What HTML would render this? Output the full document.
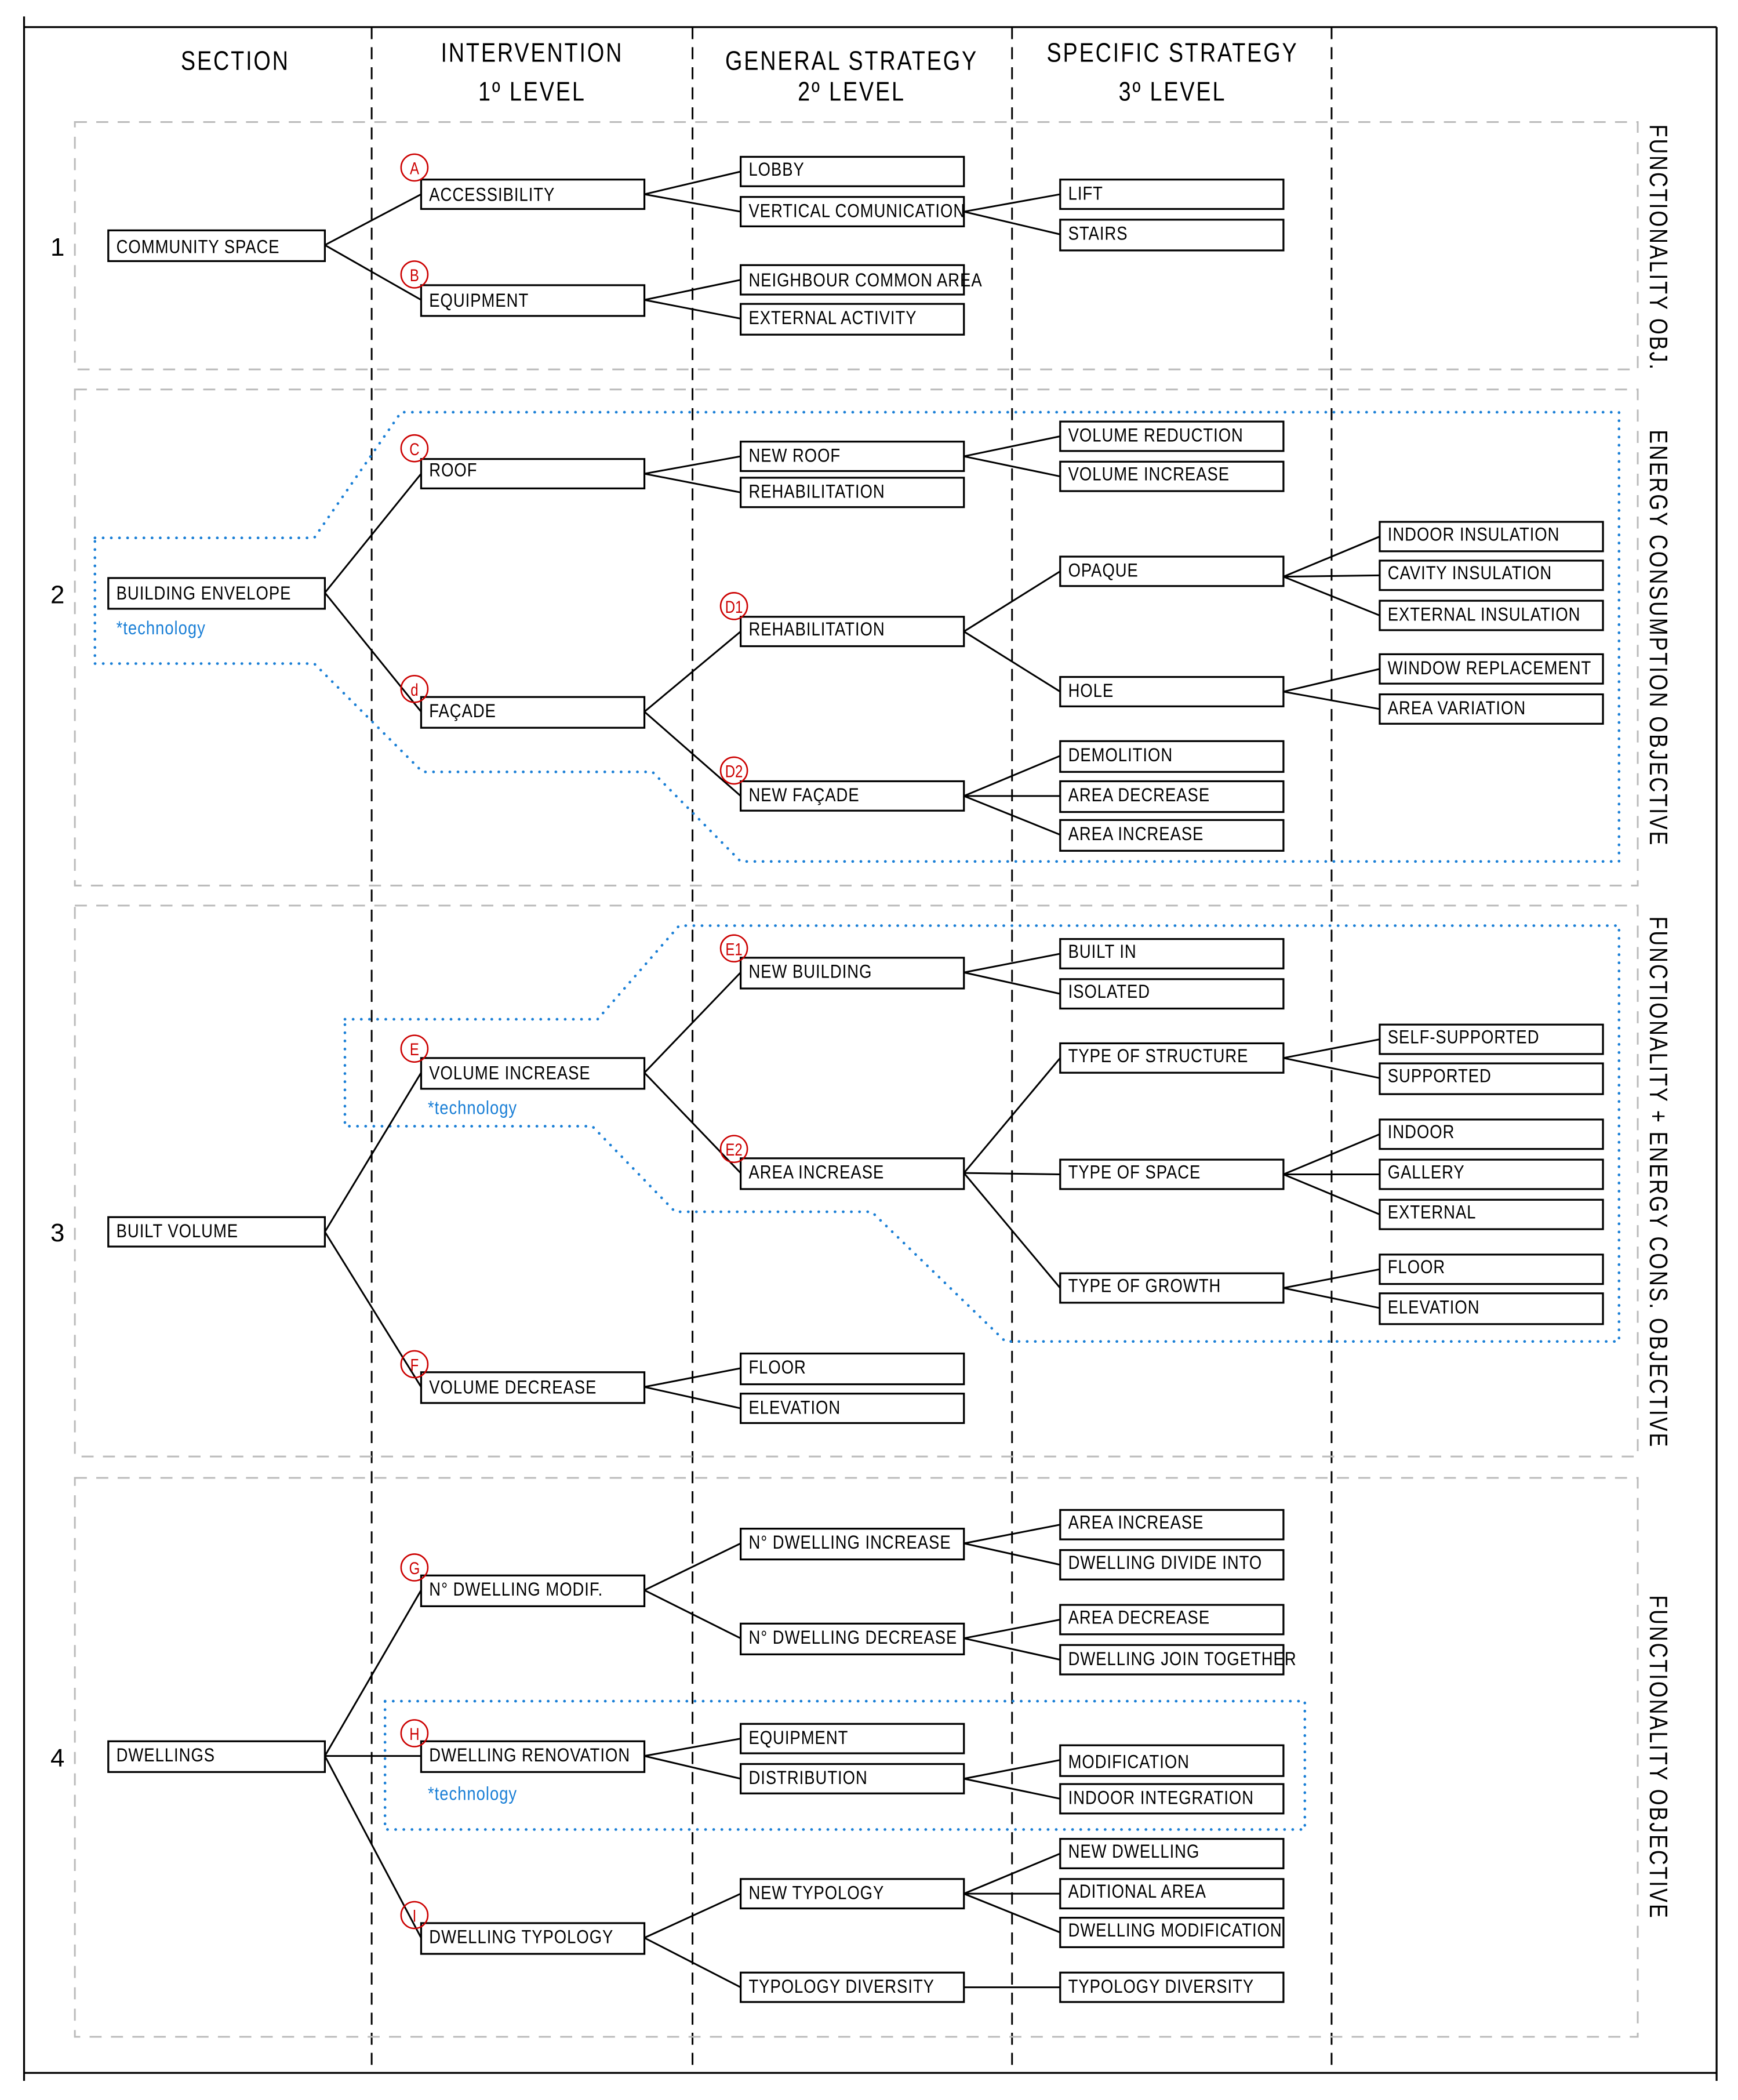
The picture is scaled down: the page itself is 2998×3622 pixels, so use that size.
<!DOCTYPE html>
<html><head><meta charset="utf-8"><style>
html,body{margin:0;padding:0;background:#fff;}
svg{display:block;}
text{font-family:"Liberation Sans",sans-serif;}
.b rect{fill:#fff;stroke:#000;stroke-width:1.4;}
.b text{font-size:14px;letter-spacing:0.5px;fill:#000;transform-box:fill-box;transform-origin:0 50%;transform:scaleX(0.85);}
.l line{stroke:#000;stroke-width:1.3;}
.c circle{fill:none;stroke:#c00;stroke-width:1.1;}
.c text{fill:#c00;font-size:13px;text-anchor:middle;transform-box:fill-box;transform-origin:50% 50%;transform:scaleX(0.8);}
.h{font-size:20px;text-anchor:middle;letter-spacing:1.5px;transform-box:fill-box;transform-origin:50% 50%;transform:scaleX(0.82);}
.v{font-size:19px;letter-spacing:1.5px;text-anchor:middle;}
.t{fill:#1a7fd6;font-size:14px;letter-spacing:0.5px;transform-box:fill-box;transform-origin:0 50%;transform:scaleX(0.85);}
</style></head><body>
<svg width="2998" height="3622" viewBox="0 0 1300 1570" xmlns="http://www.w3.org/2000/svg">
<g stroke="#000" stroke-width="1.4" fill="none">
<line x1="18" y1="12" x2="18" y2="1556"/>
<line x1="18" y1="20" x2="1284" y2="20"/>
<line x1="1284" y1="20" x2="1284" y2="1556"/>
<line x1="18" y1="1550" x2="1284" y2="1550"/>
</g>
<g stroke="#000" stroke-width="1.3" stroke-dasharray="9,6">
<line x1="278" y1="20" x2="278" y2="1550"/>
<line x1="518" y1="20" x2="518" y2="1550"/>
<line x1="757" y1="20" x2="757" y2="1550"/>
<line x1="996" y1="20" x2="996" y2="1550"/>
</g>
<g fill="none" stroke="#bbb" stroke-width="1.3" stroke-dasharray="9,7">
<rect x="56" y="91" width="1169" height="185"/>
<rect x="56" y="291" width="1169" height="371"/>
<rect x="56" y="677" width="1169" height="412"/>
<rect x="56" y="1105" width="1169" height="418"/>
</g>
<text class="h" x="176" y="52">SECTION</text>
<text class="h" x="398" y="46">INTERVENTION</text>
<text class="h" x="398" y="75">1º LEVEL</text>
<text class="h" x="637" y="52">GENERAL STRATEGY</text>
<text class="h" x="637" y="75">2º LEVEL</text>
<text class="h" x="877" y="46">SPECIFIC STRATEGY</text>
<text class="h" x="877" y="75">3º LEVEL</text>
<g font-size="19" text-anchor="middle">
<text x="43" y="191">1</text><text x="43" y="451">2</text><text x="43" y="928">3</text><text x="43" y="1321">4</text>
</g>
<text class="v" transform="translate(1234,185) rotate(90) scale(0.82,1)">FUNCTIONALITY OBJ.</text>
<text class="v" transform="translate(1234,477) rotate(90) scale(0.82,1)">ENERGY CONSUMPTION OBJECTIVE</text>
<text class="v" transform="translate(1234,884) rotate(90) scale(0.82,1)">FUNCTIONALITY + ENERGY CONS. OBJECTIVE</text>
<text class="v" transform="translate(1234,1314) rotate(90) scale(0.82,1)">FUNCTIONALITY OBJECTIVE</text>
<g fill="none" stroke="#1a7fd6" stroke-width="2" stroke-dasharray="0.1,6" stroke-linecap="round">
<polygon points="71,402 235,402 300,308 1211,308 1211,644 554,644 488,577 316,577 235,496 71,496"/>
<polygon points="258,762 447,762 508,692 1211,692 1211,1003 752,1003 652,906 505,906 443,842 258,842"/>
<rect x="288" y="1272" width="688" height="96"/>
</g>
<g class="l">
<line x1="243" y1="183" x2="315" y2="145"/><line x1="243" y1="183" x2="315" y2="224"/>
<line x1="482" y1="145" x2="554" y2="128"/><line x1="482" y1="145" x2="554" y2="158"/>
<line x1="721" y1="158" x2="793" y2="145"/><line x1="721" y1="158" x2="793" y2="175"/>
<line x1="482" y1="224" x2="554" y2="209"/><line x1="482" y1="224" x2="554" y2="238"/>
<line x1="243" y1="443" x2="315" y2="354"/><line x1="243" y1="443" x2="315" y2="532"/>
<line x1="482" y1="354" x2="554" y2="341"/><line x1="482" y1="354" x2="554" y2="368"/>
<line x1="721" y1="341" x2="793" y2="326"/><line x1="721" y1="341" x2="793" y2="356"/>
<line x1="482" y1="532" x2="554" y2="472"/><line x1="482" y1="532" x2="554" y2="595"/>
<line x1="721" y1="472" x2="793" y2="427"/><line x1="721" y1="472" x2="793" y2="517"/>
<line x1="960" y1="431" x2="1032" y2="401"/><line x1="960" y1="431" x2="1032" y2="430"/><line x1="960" y1="431" x2="1032" y2="460"/>
<line x1="960" y1="517" x2="1032" y2="500"/><line x1="960" y1="517" x2="1032" y2="530"/>
<line x1="721" y1="595" x2="793" y2="565"/><line x1="721" y1="595" x2="793" y2="595"/><line x1="721" y1="595" x2="793" y2="624"/>
<line x1="243" y1="921" x2="315" y2="802"/><line x1="243" y1="921" x2="315" y2="1037"/>
<line x1="482" y1="802" x2="554" y2="727"/><line x1="482" y1="802" x2="554" y2="877"/>
<line x1="721" y1="727" x2="793" y2="713"/><line x1="721" y1="727" x2="793" y2="743"/>
<line x1="721" y1="877" x2="793" y2="791"/><line x1="721" y1="877" x2="793" y2="878"/><line x1="721" y1="877" x2="793" y2="963"/>
<line x1="960" y1="791" x2="1032" y2="777"/><line x1="960" y1="791" x2="1032" y2="806"/>
<line x1="960" y1="878" x2="1032" y2="848"/><line x1="960" y1="878" x2="1032" y2="878"/><line x1="960" y1="878" x2="1032" y2="908"/>
<line x1="960" y1="963" x2="1032" y2="949"/><line x1="960" y1="963" x2="1032" y2="978"/>
<line x1="482" y1="1037" x2="554" y2="1023"/><line x1="482" y1="1037" x2="554" y2="1053"/>
<line x1="243" y1="1313" x2="315" y2="1189"/><line x1="243" y1="1313" x2="315" y2="1313"/><line x1="243" y1="1313" x2="315" y2="1449"/>
<line x1="482" y1="1189" x2="554" y2="1154"/><line x1="482" y1="1189" x2="554" y2="1225"/>
<line x1="721" y1="1154" x2="793" y2="1140"/><line x1="721" y1="1154" x2="793" y2="1170"/>
<line x1="721" y1="1225" x2="793" y2="1211"/><line x1="721" y1="1225" x2="793" y2="1241"/>
<line x1="482" y1="1313" x2="554" y2="1300"/><line x1="482" y1="1313" x2="554" y2="1330"/>
<line x1="721" y1="1330" x2="793" y2="1316"/><line x1="721" y1="1330" x2="793" y2="1345"/>
<line x1="482" y1="1449" x2="554" y2="1416"/><line x1="482" y1="1449" x2="554" y2="1486"/>
<line x1="721" y1="1416" x2="793" y2="1386"/><line x1="721" y1="1416" x2="793" y2="1416"/><line x1="721" y1="1416" x2="793" y2="1445"/>
<line x1="721" y1="1486" x2="793" y2="1486"/>
</g>
<g class="b">
<rect x="81" y="172" width="162" height="23"/><text x="87" y="189">COMMUNITY SPACE</text>
<rect x="315" y="134" width="167" height="22"/><text x="321" y="150">ACCESSIBILITY</text>
<rect x="315" y="213" width="167" height="23"/><text x="321" y="229">EQUIPMENT</text>
<rect x="554" y="117" width="167" height="22"/><text x="560" y="131">LOBBY</text>
<rect x="554" y="147" width="167" height="22"/><text x="560" y="162">VERTICAL COMUNICATION</text>
<rect x="554" y="198" width="167" height="22"/><text x="560" y="214">NEIGHBOUR COMMON AREA</text>
<rect x="554" y="227" width="167" height="23"/><text x="560" y="242">EXTERNAL ACTIVITY</text>
<rect x="793" y="134" width="167" height="22"/><text x="799" y="149">LIFT</text>
<rect x="793" y="164" width="167" height="23"/><text x="799" y="179">STAIRS</text>
<rect x="81" y="432" width="162" height="23"/><text x="87" y="448">BUILDING ENVELOPE</text>
<rect x="315" y="343" width="167" height="22"/><text x="321" y="356">ROOF</text>
<rect x="315" y="521" width="167" height="23"/><text x="321" y="536">FAÇADE</text>
<rect x="554" y="330" width="167" height="22"/><text x="560" y="345">NEW ROOF</text>
<rect x="554" y="357" width="167" height="22"/><text x="560" y="372">REHABILITATION</text>
<rect x="793" y="315" width="167" height="22"/><text x="799" y="330">VOLUME REDUCTION</text>
<rect x="793" y="345" width="167" height="22"/><text x="799" y="359">VOLUME INCREASE</text>
<rect x="554" y="461" width="167" height="22"/><text x="560" y="475">REHABILITATION</text>
<rect x="554" y="584" width="167" height="22"/><text x="560" y="599">NEW FAÇADE</text>
<rect x="793" y="416" width="167" height="22"/><text x="799" y="431">OPAQUE</text>
<rect x="793" y="506" width="167" height="22"/><text x="799" y="521">HOLE</text>
<rect x="1032" y="390" width="167" height="22"/><text x="1038" y="404">INDOOR INSULATION</text>
<rect x="1032" y="419" width="167" height="22"/><text x="1038" y="433">CAVITY INSULATION</text>
<rect x="1032" y="449" width="167" height="22"/><text x="1038" y="464">EXTERNAL INSULATION</text>
<rect x="1032" y="489" width="167" height="22"/><text x="1038" y="504">WINDOW REPLACEMENT</text>
<rect x="1032" y="519" width="167" height="22"/><text x="1038" y="534">AREA VARIATION</text>
<rect x="793" y="554" width="167" height="23"/><text x="799" y="569">DEMOLITION</text>
<rect x="793" y="584" width="167" height="23"/><text x="799" y="599">AREA DECREASE</text>
<rect x="793" y="613" width="167" height="23"/><text x="799" y="628">AREA INCREASE</text>
<rect x="81" y="910" width="162" height="22"/><text x="87" y="925">BUILT VOLUME</text>
<rect x="315" y="791" width="167" height="23"/><text x="321" y="807">VOLUME INCREASE</text>
<rect x="315" y="1026" width="167" height="23"/><text x="321" y="1042">VOLUME DECREASE</text>
<rect x="554" y="716" width="167" height="23"/><text x="560" y="731">NEW BUILDING</text>
<rect x="554" y="866" width="167" height="23"/><text x="560" y="881">AREA INCREASE</text>
<rect x="793" y="702" width="167" height="22"/><text x="799" y="716">BUILT IN</text>
<rect x="793" y="732" width="167" height="22"/><text x="799" y="746">ISOLATED</text>
<rect x="793" y="780" width="167" height="22"/><text x="799" y="794">TYPE OF STRUCTURE</text>
<rect x="793" y="867" width="167" height="22"/><text x="799" y="881">TYPE OF SPACE</text>
<rect x="793" y="952" width="167" height="22"/><text x="799" y="966">TYPE OF GROWTH</text>
<rect x="1032" y="766" width="167" height="22"/><text x="1038" y="780">SELF-SUPPORTED</text>
<rect x="1032" y="795" width="167" height="23"/><text x="1038" y="809">SUPPORTED</text>
<rect x="1032" y="837" width="167" height="22"/><text x="1038" y="851">INDOOR</text>
<rect x="1032" y="867" width="167" height="22"/><text x="1038" y="881">GALLERY</text>
<rect x="1032" y="897" width="167" height="22"/><text x="1038" y="911">EXTERNAL</text>
<rect x="1032" y="938" width="167" height="22"/><text x="1038" y="952">FLOOR</text>
<rect x="1032" y="967" width="167" height="23"/><text x="1038" y="982">ELEVATION</text>
<rect x="554" y="1012" width="167" height="23"/><text x="560" y="1027">FLOOR</text>
<rect x="554" y="1042" width="167" height="22"/><text x="560" y="1057">ELEVATION</text>
<rect x="81" y="1302" width="162" height="23"/><text x="87" y="1317">DWELLINGS</text>
<rect x="315" y="1178" width="167" height="23"/><text x="321" y="1193">N° DWELLING MODIF.</text>
<rect x="315" y="1302" width="167" height="23"/><text x="321" y="1317">DWELLING RENOVATION</text>
<rect x="315" y="1438" width="167" height="23"/><text x="321" y="1453">DWELLING TYPOLOGY</text>
<rect x="554" y="1143" width="167" height="23"/><text x="560" y="1158">N° DWELLING INCREASE</text>
<rect x="554" y="1214" width="167" height="23"/><text x="560" y="1229">N° DWELLING DECREASE</text>
<rect x="793" y="1129" width="167" height="22"/><text x="799" y="1143">AREA INCREASE</text>
<rect x="793" y="1159" width="167" height="22"/><text x="799" y="1173">DWELLING DIVIDE INTO</text>
<rect x="793" y="1200" width="167" height="22"/><text x="799" y="1214">AREA DECREASE</text>
<rect x="793" y="1230" width="167" height="22"/><text x="799" y="1245">DWELLING JOIN TOGETHER</text>
<rect x="554" y="1289" width="167" height="22"/><text x="560" y="1304">EQUIPMENT</text>
<rect x="554" y="1319" width="167" height="22"/><text x="560" y="1334">DISTRIBUTION</text>
<rect x="793" y="1305" width="167" height="23"/><text x="799" y="1322">MODIFICATION</text>
<rect x="793" y="1334" width="167" height="22"/><text x="799" y="1349">INDOOR INTEGRATION</text>
<rect x="554" y="1405" width="167" height="22"/><text x="560" y="1420">NEW TYPOLOGY</text>
<rect x="554" y="1475" width="167" height="22"/><text x="560" y="1490">TYPOLOGY DIVERSITY</text>
<rect x="793" y="1375" width="167" height="22"/><text x="799" y="1389">NEW DWELLING</text>
<rect x="793" y="1405" width="167" height="22"/><text x="799" y="1419">ADITIONAL AREA</text>
<rect x="793" y="1434" width="167" height="22"/><text x="799" y="1448">DWELLING MODIFICATION</text>
<rect x="793" y="1475" width="167" height="22"/><text x="799" y="1490">TYPOLOGY DIVERSITY</text>
</g>
<text class="t" x="87" y="474">*technology</text>
<text class="t" x="320" y="833">*technology</text>
<text class="t" x="320" y="1346">*technology</text>
<g class="c">
<circle cx="310" cy="125" r="10"/><text x="310" y="130">A</text>
<circle cx="310" cy="205" r="10"/><text x="310" y="210">B</text>
<circle cx="310" cy="335" r="10"/><text x="310" y="340">C</text>
<circle cx="310" cy="515" r="10"/><text x="310" y="520">d</text>
<circle cx="549" cy="453" r="10"/><text x="549" y="458">D1</text>
<circle cx="549" cy="576" r="10"/><text x="549" y="581">D2</text>
<circle cx="310" cy="784" r="10"/><text x="310" y="789">E</text>
<circle cx="310" cy="1020" r="10"/><text x="310" y="1025">F</text>
<circle cx="549" cy="709" r="10"/><text x="549" y="714">E1</text>
<circle cx="549" cy="859" r="10"/><text x="549" y="864">E2</text>
<circle cx="310" cy="1172" r="10"/><text x="310" y="1177">G</text>
<circle cx="310" cy="1296" r="10"/><text x="310" y="1301">H</text>
<circle cx="310" cy="1432" r="10"/><text x="310" y="1437">I</text>
</g>
</svg>
</body></html>
